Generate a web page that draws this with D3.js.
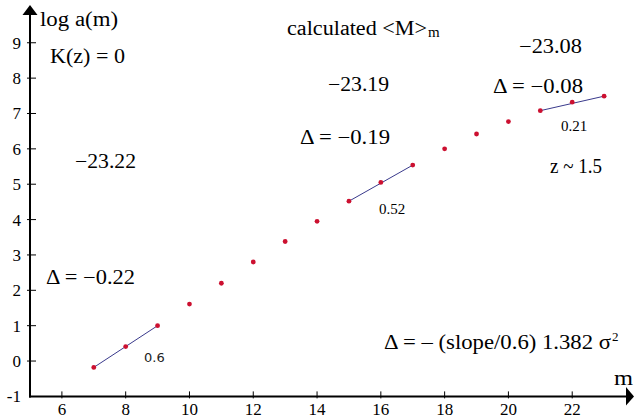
<!DOCTYPE html>
<html>
  <head>
    <meta charset="utf-8" />
    <script src="https://cdn.jsdelivr.net/npm/d3@7"></script>
    <style>
body { margin: 0; background: #ffffff; }
.axis-line { stroke: #000; stroke-width: 2; fill: none; }
.tick-mark { stroke: #000; stroke-width: 1; }
.fit { stroke: #3a3a8c; stroke-width: 1; }
.pt { fill: #cc1030; }
    </style>
  </head>
  <body>
    <script type="text/javascript">
var w = 636, h = 419;
var serif = "'Liberation Serif'";

// data
var mValues = [7, 8, 9, 10, 11, 12, 13, 14, 15, 16, 17, 18, 19, 20, 21, 22, 23];
var logA = [-0.18, 0.41, 1.0, 1.61, 2.2, 2.8, 3.38, 3.95, 4.52, 5.05, 5.54, 6.0, 6.42, 6.77, 7.08, 7.32, 7.49];
var fitRanges = [[7, 9], [15, 17], [21, 23]];
var slopeLabels = ["0.6", "0.52", "0.21"];
var xTicks = [6, 8, 10, 12, 14, 16, 18, 20, 22];
var yTicks = [-1, 0, 1, 2, 3, 4, 5, 6, 7, 8, 9];

var x = d3.scaleLinear().domain([5, 24]).range([30, 636]);
var y = d3.scaleLinear().domain([-1, 10]).range([396.4, 7.4]);

var svg = d3.select("body").append("svg")
    .attr("width", w).attr("height", h);

function txt(tx, ty, s, size) {
  return svg.append("text").attr("x", tx).attr("y", ty)
    .style("font-family", serif).style("font-size", size + "px")
    .style("fill", "#000").text(s);
}

// axes
svg.append("line").attr("class", "axis-line")
    .attr("x1", x(5) - 1).attr("y1", y(-1)).attr("x2", 627).attr("y2", y(-1));
svg.append("path").attr("d", "M626,387 L634,396.4 L626,405.5 Z");
svg.append("line").attr("class", "axis-line")
    .attr("x1", x(5)).attr("y1", y(-1) + 1).attr("x2", x(5)).attr("y2", 14);
svg.append("path").attr("d", "M22.5,15 L" + x(5) + ",5 L37.5,15 Z");

xTicks.forEach(function(d) {
  svg.append("line").attr("class", "tick-mark")
    .attr("x1", x(d)).attr("x2", x(d))
    .attr("y1", y(-1) - 5).attr("y2", y(-1) + 2);
  txt(x(d), 415, d, 17).attr("text-anchor", "middle");
});

yTicks.forEach(function(d) {
  if (d > -1) {
    svg.append("line").attr("class", "tick-mark")
      .attr("x1", x(5) - 3).attr("x2", x(5) + 6)
      .attr("y1", y(d)).attr("y2", y(d));
  }
  txt(21, y(d) + 6, d, 17).attr("text-anchor", "end");
});

// fitted segments
svg.selectAll("line.fit").data(fitRanges).enter().append("line")
    .attr("class", "fit")
    .attr("x1", function(d) { return x(d[0]); })
    .attr("y1", function(d) { return y(logA[mValues.indexOf(d[0])]); })
    .attr("x2", function(d) { return x(d[1]); })
    .attr("y2", function(d) { return y(logA[mValues.indexOf(d[1])]); });

svg.selectAll("circle.pt").data(mValues).enter().append("circle")
    .attr("class", "pt")
    .attr("cx", function(d) { return x(d); })
    .attr("cy", function(d, i) { return y(logA[i]); })
    .attr("r", 2.4);

// slope labels
txt(144, 362, slopeLabels[0], 13).style("font-family", "'DejaVu Sans'").style("fill", "#222");
txt(379, 214, slopeLabels[1], 15);
txt(561, 131, slopeLabels[2], 15);

// notes, stretched to the widths seen in the picture
function note(tx, ty, s, len) {
  return txt(tx, ty, s, 20)
    .attr("textLength", len).attr("lengthAdjust", "spacingAndGlyphs");
}
note(40, 26, "log a(m)", 78);
note(50, 63, "K(z) = 0", 75);
note(75, 168, "\u221223.22", 61);
note(46, 284, "\u0394 = \u22120.22", 89);
note(328, 91, "\u221223.19", 61);
note(300, 144, "\u0394 = \u22120.19", 90);
note(519, 53, "\u221223.08", 63);
note(493, 93, "\u0394 = \u22120.08", 90);
note(550, 173, "z ~ 1.5", 52);
note(614, 385, "m", 19);
note(287, 35, "calculated <M>", 140);
txt(428, 37, "m", 15);
note(384, 349, "\u0394 = \u2013 (slope/0.6) 1.382 \u03c3", 227);
txt(612, 341, "2", 13);

    </script>
  </body>
</html>
